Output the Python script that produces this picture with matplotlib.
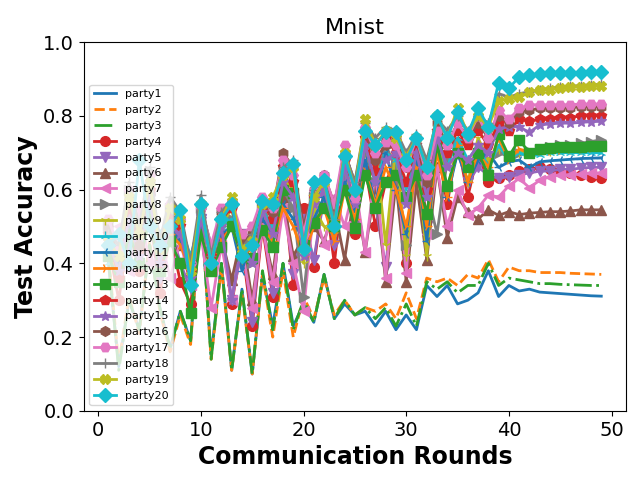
import matplotlib
matplotlib.use("Agg")
import matplotlib.pyplot as plt
import numpy as np

rounds = np.arange(1, 50)

# low group (no markers)
party1 = [0.40, 0.12, 0.30, 0.22, 0.45, 0.28, 0.17, 0.27, 0.19, 0.55,
          0.15, 0.40, 0.11, 0.33, 0.10, 0.37, 0.23, 0.40, 0.23, 0.29,
          0.24, 0.37, 0.25, 0.29, 0.26, 0.27, 0.23, 0.27, 0.22, 0.26,
          0.22, 0.34, 0.31, 0.34, 0.29, 0.30, 0.32, 0.38, 0.31, 0.34,
          0.325, 0.33, 0.322, 0.32, 0.318, 0.316, 0.314, 0.312, 0.311]
party2 = [0.42, 0.13, 0.31, 0.21, 0.46, 0.27, 0.16, 0.26, 0.18, 0.56,
          0.14, 0.39, 0.11, 0.32, 0.10, 0.37, 0.20, 0.38, 0.20, 0.31,
          0.25, 0.36, 0.26, 0.30, 0.26, 0.28, 0.27, 0.29, 0.25, 0.32,
          0.25, 0.36, 0.35, 0.36, 0.34, 0.37, 0.36, 0.41, 0.35, 0.39,
          0.38, 0.38, 0.375, 0.375, 0.375, 0.373, 0.372, 0.371, 0.37]
party3 = [0.41, 0.11, 0.30, 0.22, 0.45, 0.28, 0.17, 0.27, 0.19, 0.56,
          0.14, 0.40, 0.11, 0.33, 0.10, 0.38, 0.22, 0.40, 0.22, 0.30,
          0.24, 0.37, 0.25, 0.30, 0.26, 0.28, 0.25, 0.28, 0.23, 0.29,
          0.23, 0.35, 0.33, 0.35, 0.32, 0.34, 0.34, 0.40, 0.34, 0.36,
          0.355, 0.35, 0.345, 0.345, 0.343, 0.342, 0.341, 0.34, 0.34]

party4 = [0.45, 0.30, 0.50, 0.38, 0.55, 0.32, 0.48, 0.35, 0.29, 0.50,
          0.40, 0.48, 0.29, 0.45, 0.23, 0.50, 0.31, 0.62, 0.34, 0.55,
          0.39, 0.60, 0.40, 0.65, 0.48, 0.66, 0.50, 0.62, 0.68, 0.40,
          0.68, 0.53, 0.72, 0.56, 0.73, 0.58, 0.70, 0.62, 0.63, 0.64,
          0.65, 0.655, 0.66, 0.655, 0.65, 0.645, 0.64, 0.635, 0.63]
party5 = [0.50, 0.35, 0.45, 0.40, 0.58, 0.36, 0.50, 0.40, 0.33, 0.52,
          0.42, 0.50, 0.30, 0.48, 0.24, 0.52, 0.32, 0.60, 0.37, 0.52,
          0.41, 0.58, 0.45, 0.63, 0.50, 0.67, 0.56, 0.39, 0.66, 0.45,
          0.70, 0.50, 0.72, 0.60, 0.70, 0.62, 0.66, 0.64, 0.63, 0.635,
          0.64, 0.645, 0.65, 0.65, 0.655, 0.655, 0.658, 0.66, 0.66]
party6 = [0.48, 0.40, 0.55, 0.45, 0.60, 0.42, 0.52, 0.45, 0.38, 0.50,
          0.42, 0.47, 0.355, 0.48, 0.30, 0.50, 0.37, 0.58, 0.42, 0.47,
          0.50, 0.46, 0.55, 0.41, 0.60, 0.43, 0.62, 0.35, 0.62, 0.35,
          0.62, 0.41, 0.66, 0.47, 0.58, 0.54, 0.52, 0.545, 0.53, 0.54,
          0.532, 0.536, 0.538, 0.54, 0.54, 0.542, 0.545, 0.545, 0.545]
party7 = [0.42, 0.50, 0.38, 0.55, 0.40, 0.48, 0.36, 0.46, 0.34, 0.48,
          0.28, 0.45, 0.30, 0.44, 0.28, 0.50, 0.35, 0.55, 0.40, 0.27,
          0.55, 0.45, 0.58, 0.50, 0.62, 0.43, 0.65, 0.36, 0.68, 0.375,
          0.70, 0.48, 0.66, 0.50, 0.60, 0.53, 0.55, 0.585, 0.58, 0.61,
          0.63, 0.605, 0.625, 0.635, 0.64, 0.64, 0.642, 0.645, 0.645]
party8 = [0.50, 0.42, 0.60, 0.45, 0.65, 0.40, 0.55, 0.48, 0.40, 0.55,
          0.45, 0.50, 0.52, 0.46, 0.40, 0.55, 0.50, 0.60, 0.55, 0.31,
          0.58, 0.55, 0.50, 0.65, 0.60, 0.70, 0.62, 0.72, 0.66, 0.45,
          0.72, 0.60, 0.48, 0.68, 0.72, 0.66, 0.70, 0.68, 0.70, 0.69,
          0.70, 0.705, 0.71, 0.715, 0.72, 0.72, 0.725, 0.73, 0.735]
party9 = [0.45, 0.38, 0.52, 0.42, 0.58, 0.40, 0.50, 0.48, 0.36, 0.52,
          0.38, 0.50, 0.55, 0.40, 0.46, 0.55, 0.45, 0.63, 0.60, 0.40,
          0.55, 0.50, 0.48, 0.68, 0.50, 0.75, 0.72, 0.45, 0.72, 0.42,
          0.70, 0.42, 0.74, 0.60, 0.72, 0.62, 0.74, 0.68, 0.71, 0.70,
          0.70, 0.70, 0.705, 0.705, 0.71, 0.71, 0.71, 0.715, 0.715]
party10 = [0.40, 0.45, 0.50, 0.42, 0.55, 0.48, 0.52, 0.50, 0.42, 0.52,
           0.44, 0.50, 0.52, 0.44, 0.48, 0.54, 0.50, 0.60, 0.58, 0.45,
           0.58, 0.60, 0.52, 0.66, 0.58, 0.72, 0.62, 0.70, 0.68, 0.60,
           0.70, 0.58, 0.74, 0.66, 0.74, 0.68, 0.72, 0.66, 0.72, 0.68,
           0.70, 0.69, 0.695, 0.70, 0.70, 0.70, 0.70, 0.70, 0.70]
party11 = [0.45, 0.40, 0.50, 0.45, 0.55, 0.42, 0.50, 0.46, 0.40, 0.50,
           0.42, 0.48, 0.50, 0.38, 0.47, 0.52, 0.48, 0.56, 0.52, 0.46,
           0.52, 0.58, 0.48, 0.62, 0.54, 0.68, 0.56, 0.70, 0.60, 0.48,
           0.68, 0.46, 0.72, 0.58, 0.70, 0.62, 0.68, 0.70, 0.66, 0.675,
           0.68, 0.66, 0.675, 0.678, 0.68, 0.682, 0.684, 0.685, 0.686]
party12 = [0.42, 0.38, 0.48, 0.44, 0.52, 0.40, 0.48, 0.45, 0.38, 0.48,
           0.40, 0.46, 0.50, 0.42, 0.44, 0.50, 0.46, 0.55, 0.50, 0.42,
           0.50, 0.55, 0.46, 0.60, 0.52, 0.65, 0.56, 0.66, 0.60, 0.50,
           0.66, 0.50, 0.70, 0.58, 0.72, 0.62, 0.70, 0.66, 0.74, 0.68,
           0.71, 0.70, 0.705, 0.705, 0.708, 0.71, 0.71, 0.712, 0.715]
party13 = [0.42, 0.35, 0.48, 0.40, 0.52, 0.38, 0.46, 0.40, 0.265, 0.48,
           0.38, 0.445, 0.50, 0.42, 0.415, 0.49, 0.445, 0.60, 0.59, 0.45,
           0.51, 0.55, 0.50, 0.60, 0.495, 0.64, 0.55, 0.62, 0.64, 0.58,
           0.64, 0.535, 0.72, 0.61, 0.70, 0.66, 0.70, 0.64, 0.75, 0.69,
           0.735, 0.70, 0.71, 0.712, 0.714, 0.715, 0.716, 0.717, 0.718]
party14 = [0.48, 0.36, 0.55, 0.44, 0.60, 0.40, 0.52, 0.50, 0.38, 0.55,
           0.42, 0.52, 0.55, 0.44, 0.46, 0.56, 0.52, 0.66, 0.62, 0.48,
           0.58, 0.62, 0.55, 0.68, 0.60, 0.74, 0.65, 0.74, 0.70, 0.62,
           0.72, 0.60, 0.76, 0.70, 0.76, 0.72, 0.76, 0.72, 0.78, 0.76,
           0.79, 0.785, 0.79, 0.79, 0.795, 0.795, 0.80, 0.80, 0.80]
party15 = [0.46, 0.38, 0.52, 0.42, 0.58, 0.40, 0.50, 0.48, 0.36, 0.52,
           0.40, 0.50, 0.30, 0.45, 0.40, 0.54, 0.48, 0.62, 0.58, 0.42,
           0.56, 0.60, 0.50, 0.66, 0.56, 0.72, 0.62, 0.68, 0.70, 0.56,
           0.70, 0.58, 0.74, 0.66, 0.70, 0.68, 0.72, 0.70, 0.765, 0.77,
           0.77, 0.755, 0.775, 0.778, 0.78, 0.78, 0.782, 0.784, 0.785]
party16 = [0.50, 0.42, 0.58, 0.45, 0.62, 0.44, 0.55, 0.52, 0.40, 0.56,
           0.44, 0.54, 0.56, 0.46, 0.48, 0.56, 0.54, 0.70, 0.66, 0.50,
           0.60, 0.64, 0.56, 0.70, 0.62, 0.76, 0.68, 0.72, 0.74, 0.66,
           0.74, 0.62, 0.78, 0.72, 0.78, 0.74, 0.78, 0.74, 0.80, 0.78,
           0.81, 0.815, 0.82, 0.82, 0.82, 0.822, 0.824, 0.825, 0.825]
party17 = [0.52, 0.44, 0.60, 0.48, 0.64, 0.45, 0.56, 0.52, 0.40, 0.55,
           0.45, 0.55, 0.57, 0.48, 0.50, 0.58, 0.55, 0.68, 0.64, 0.48,
           0.60, 0.64, 0.56, 0.72, 0.576, 0.77, 0.70, 0.73, 0.72, 0.66,
           0.74, 0.64, 0.76, 0.72, 0.78, 0.74, 0.80, 0.74, 0.815, 0.79,
           0.82, 0.83, 0.83, 0.83, 0.83, 0.83, 0.832, 0.832, 0.832]
party18 = [0.48, 0.45, 0.62, 0.50, 0.66, 0.46, 0.58, 0.54, 0.40, 0.585,
           0.42, 0.54, 0.57, 0.44, 0.48, 0.56, 0.55, 0.66, 0.68, 0.45,
           0.60, 0.63, 0.52, 0.70, 0.62, 0.78, 0.74, 0.77, 0.76, 0.70,
           0.75, 0.68, 0.79, 0.76, 0.80, 0.76, 0.80, 0.78, 0.86, 0.85,
           0.86, 0.865, 0.87, 0.875, 0.878, 0.88, 0.882, 0.884, 0.885]
party19 = [0.46, 0.42, 0.58, 0.48, 0.62, 0.44, 0.55, 0.52, 0.38, 0.56,
           0.40, 0.52, 0.58, 0.44, 0.46, 0.56, 0.58, 0.64, 0.66, 0.44,
           0.58, 0.62, 0.50, 0.70, 0.60, 0.79, 0.72, 0.76, 0.74, 0.69,
           0.74, 0.66, 0.80, 0.74, 0.82, 0.75, 0.80, 0.77, 0.84, 0.845,
           0.85, 0.865, 0.87, 0.87, 0.875, 0.877, 0.878, 0.88, 0.88]
party20 = [0.45, 0.48, 0.40, 0.68, 0.50, 0.45, 0.50, 0.545, 0.34, 0.56,
           0.40, 0.52, 0.56, 0.42, 0.45, 0.57, 0.56, 0.645, 0.67, 0.44,
           0.62, 0.625, 0.50, 0.69, 0.60, 0.76, 0.72, 0.755, 0.755, 0.68,
           0.74, 0.66, 0.80, 0.74, 0.81, 0.75, 0.82, 0.77, 0.89, 0.875,
           0.905, 0.91, 0.913, 0.915, 0.915, 0.917, 0.917, 0.918, 0.92]

series = [party1, party2, party3, party4, party5, party6, party7, party8, party9, party10,
          party11, party12, party13, party14, party15, party16, party17, party18, party19, party20]
labels = ["party%d" % (i + 1) for i in range(20)]
markers = [None, None, None, 'o', 'v', '^', '<', '>', '1', '2',
           '3', '4', 's', 'p', '*', 'h', 'H', '+', 'X', 'D']
styles = ['-', '--', '-.'] + ['-'] * 17

fig, ax = plt.subplots(figsize=(6.4, 4.8), dpi=100)
for vals, lab, m, ls in zip(series, labels, markers, styles):
    ax.plot(rounds, vals, linestyle=ls, marker=m, markersize=7, linewidth=2, label=lab)

ax.set_ylim(0, 1.0)
ax.set_title("Mnist", fontsize=16)
ax.set_xlabel("Communication Rounds", fontsize=17, fontweight="bold")
ax.set_ylabel("Test Accuracy", fontsize=17, fontweight="bold")
ax.tick_params(labelsize=14)
ax.legend(loc="lower left", fontsize=8, labelspacing=0.53)

plt.subplots_adjust(left=0.131, right=0.978, top=0.9125, bottom=0.144)
plt.savefig("out.png")
